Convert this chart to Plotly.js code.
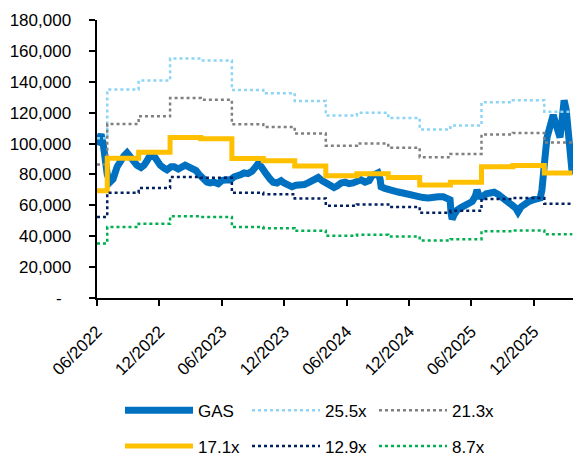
<!DOCTYPE html>
<html><head><meta charset="utf-8">
<script src="https://cdn.plot.ly/plotly-3.0.1.min.js"></script>
<style>html,body{margin:0;padding:0;background:#fff}#chart{width:573px;height:457px}</style>
</head><body><div id="chart"></div>
<script>
// ---- data ----
const gasDates = ['2022-06-01','2022-06-07','2022-06-13','2022-06-19','2022-06-25','2022-07-01','2022-07-09','2022-07-18','2022-07-30','2022-08-11','2022-08-19','2022-08-28','2022-09-06','2022-09-18','2022-09-26','2022-10-08','2022-10-17','2022-10-26','2022-11-04','2022-11-09','2022-11-15','2022-11-24','2022-12-03','2022-12-15','2022-12-23','2023-01-04','2023-01-13','2023-01-25','2023-02-02','2023-02-14','2023-02-23','2023-03-07','2023-03-18','2023-03-27','2023-04-08','2023-04-19','2023-04-28','2023-05-10','2023-05-22','2023-06-02','2023-06-14','2023-06-26','2023-07-08','2023-07-16','2023-07-28','2023-08-06','2023-08-17','2023-08-29','2023-09-07','2023-09-16','2023-09-25','2023-09-30','2023-10-09','2023-10-21','2023-10-30','2023-11-10','2023-11-22','2023-12-01','2023-12-13','2023-12-24','2024-01-05','2024-01-17','2024-01-29','2024-02-09','2024-02-18','2024-03-01','2024-03-10','2024-03-21','2024-04-02','2024-04-14','2024-04-25','2024-05-04','2024-05-16','2024-05-28','2024-06-08','2024-06-20','2024-07-02','2024-07-13','2024-07-25','2024-08-06','2024-08-14','2024-08-23','2024-09-01','2024-09-07','2024-09-10','2024-09-21','2024-10-03','2024-10-15','2024-10-30','2024-11-13','2024-11-28','2024-12-13','2024-12-27','2025-01-11','2025-01-26','2025-02-09','2025-02-24','2025-03-11','2025-03-22','2025-03-31','2025-04-03','2025-04-06','2025-04-12','2025-04-21','2025-05-02','2025-05-14','2025-05-26','2025-06-04','2025-06-13','2025-06-18','2025-06-24','2025-07-03','2025-07-15','2025-07-26','2025-08-07','2025-08-19','2025-08-30','2025-09-14','2025-09-29','2025-10-10','2025-10-16','2025-10-25','2025-11-06','2025-11-17','2025-11-29','2025-12-11','2025-12-20','2025-12-25','2025-12-31','2026-01-03','2026-01-09','2026-01-18','2026-01-24','2026-01-27','2026-02-02','2026-02-08','2026-02-16','2026-02-22','2026-02-28','2026-03-06','2026-03-12','2026-03-18','2026-03-24'];
const gasValues = [99000,103000,106000,100000,88000,80000,75000,77000,85000,90000,92000,94000,91000,88000,86000,84500,86000,89000,93000,94500,92000,88000,86000,84000,83000,85000,85000,83500,84500,86000,85000,84000,82500,80000,77000,75000,74500,75000,74000,76000,76500,76400,78500,79600,80000,81000,80500,82000,84000,87000,85000,83000,80500,77000,75000,74500,76000,74500,73500,72000,73000,73000,73500,74500,75500,77500,78000,76000,74000,73000,71500,72500,74500,75000,74000,74500,75500,76500,75000,76000,79000,80500,81000,77000,72000,71000,70000,69500,68600,68000,67000,66000,65500,65000,64800,65500,65500,65500,65000,63500,55000,51000,54000,57000,58500,60000,61000,62500,66000,70000,66000,65500,67500,68000,68500,67000,65400,63000,60000,58000,55700,59000,61500,62500,63500,64000,64800,70000,80000,91000,104000,113000,116500,118500,114000,110700,104000,115000,128000,122000,105000,90000,80000];

const bandDates = ['2022-06-01','2022-07-01','2022-10-01','2023-01-01','2023-04-01','2023-07-01','2023-10-01','2024-01-01','2024-04-01','2024-07-01','2024-10-01','2025-01-01','2025-04-01','2025-07-01','2025-10-01','2026-01-01','2026-03-24'];
const band255 = [103500,135000,140800,155000,153800,134600,132600,127500,118100,119900,116500,109100,111700,126700,128000,120600,120600];
const band213 = [86500,112700,117600,129500,128400,112500,110800,106500,98600,100100,97300,91200,93300,105900,106900,100700,100700];
const band171 = [69400,90500,94400,104000,103100,90300,88900,85500,79200,80400,78100,73200,74900,85000,85800,80900,80900];
const band129 = [52400,68200,71200,78400,77800,68100,67100,64500,59700,60600,59000,55200,56500,64100,64800,61000,61000];
const band87  = [35300,46000,48000,52900,52500,45900,45200,43500,40300,40900,39800,37200,38100,43200,43700,41200,41200];

const seriesNames = ['GAS','25.5x','21.3x','17.1x','12.9x','8.7x'];

const xTickVals = ['2022-06-01','2022-12-01','2023-06-01','2023-12-01','2024-06-01','2024-12-01','2025-06-01','2025-12-01'];
const xTickText = ['06/2022','12/2022','06/2023','12/2023','06/2024','12/2024','06/2025','12/2025'];
const yTickVals = [0,20000,40000,60000,80000,100000,120000,140000,160000,180000];
const yTickText = ['-\u00a0\u00a0','20,000','40,000','60,000','80,000','100,000','120,000','140,000','160,000','180,000'];

// ---- chart ----
const FONT = '"Liberation Sans", Arial, sans-serif';
const dotW = 2.5;
const traces = [
  {x: gasDates, y: gasValues, name: seriesNames[0], mode: 'lines', line: {color: '#0070C0', width: 7}, legend: 'legend'},
  {x: bandDates, y: band255, name: seriesNames[1], mode: 'lines', line: {color: '#8DD4F5', width: dotW, dash: 'dot', shape: 'hv'}, legend: 'legend'},
  {x: bandDates, y: band213, name: seriesNames[2], mode: 'lines', line: {color: '#808080', width: dotW, dash: 'dot', shape: 'hv'}, legend: 'legend'},
  {x: bandDates, y: band171, name: seriesNames[3], mode: 'lines', line: {color: '#FFC000', width: 5, shape: 'hv'}, legend: 'legend2'},
  {x: bandDates, y: band129, name: seriesNames[4], mode: 'lines', line: {color: '#002060', width: dotW, dash: 'dot', shape: 'hv'}, legend: 'legend2'},
  {x: bandDates, y: band87, name: seriesNames[5], mode: 'lines', line: {color: '#00B050', width: dotW, dash: 'dot', shape: 'hv'}, legend: 'legend2'}
];

const legendCommon = {
  orientation: 'h', xref: 'container', yref: 'container', xanchor: 'left', yanchor: 'middle',
  font: {family: FONT, size: 17, color: '#000'}, itemwidth: 68, entrywidth: 44, entrywidthmode: 'pixels',
  bgcolor: 'rgba(0,0,0,0)', borderwidth: 0
};

const layout = {
  width: 573, height: 457,
  margin: {l: 97, r: 0, t: 20, b: 159, autoexpand: false},
  paper_bgcolor: '#fff', plot_bgcolor: '#fff',
  font: {family: FONT, size: 17, color: '#000'},
  showlegend: true,
  legend: Object.assign({}, legendCommon, {x: 120/573, y: 1 - 410.7/457}),
  legend2: Object.assign({}, legendCommon, {x: 120/573, y: 1 - 446.5/457}),
  xaxis: {
    type: 'date', range: ['2022-06-01', '2026-03-26'],
    tickmode: 'array', tickvals: xTickVals, ticktext: xTickText, tickangle: -45,
    ticks: 'outside', ticklen: 6, tickwidth: 2, tickcolor: '#000', ticklabelstandoff: 9,
    showline: true, linecolor: '#000', linewidth: 2, showgrid: false, zeroline: false,
    tickfont: {family: FONT, size: 17, color: '#000'}
  },
  yaxis: {
    range: [0, 180000], tickmode: 'array', tickvals: yTickVals, ticktext: yTickText,
    ticks: 'outside', ticklen: 6, tickwidth: 2, tickcolor: '#000', ticklabelstandoff: 14,
    showline: true, linecolor: '#000', linewidth: 2.5, showgrid: false, zeroline: false,
    tickfont: {family: FONT, size: 17, color: '#000'}
  }
};

Plotly.newPlot('chart', traces, layout, {staticPlot: true, displayModeBar: false});
</script>
</body></html>
